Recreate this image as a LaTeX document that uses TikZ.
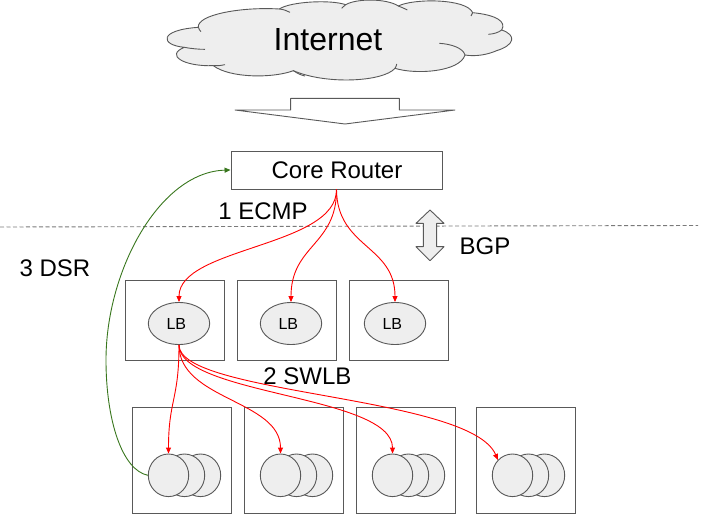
\documentclass[tikz,border=0pt]{standalone}
\usepackage{fontspec}
\setmainfont{Liberation Sans}
\usetikzlibrary{arrows.meta,shapes.geometric}
\definecolor{strk}{HTML}{595959}
\definecolor{shade}{HTML}{EEEEEE}
\definecolor{dsrgreen}{HTML}{38761D}
\tikzset{
  sz/.style={font=\fontsize{#1}{#1}\selectfont},
  lbl/.style={sz=24,inner sep=0pt,text=black},
  boxx/.style={draw=strk,line width=0.9pt,minimum width=99pt,inner sep=0pt},
  lbnode/.style={draw=strk,fill=shade,ellipse,line width=0.9pt,inner sep=0pt,minimum width=61.4pt,minimum height=42pt,sz=16},
  srv/.style={draw=strk,fill=shade,ellipse,line width=0.9pt,inner sep=0pt,minimum width=40.4pt,minimum height=42.6pt},
  redl/.style={draw=red,line width=0.9pt,-{Triangle[length=6pt,width=5pt]}},
  greenl/.style={draw=dsrgreen,line width=0.9pt,-{Triangle[length=6pt,width=5pt]}},
  shapeline/.style={draw=strk,line width=0.9pt,line join=round},
}
\begin{document}
\begin{tikzpicture}[x=1pt,y=-1pt]
\useasboundingbox (0,0) rectangle (701,514);
% cloud
\begin{scope}[shift={(150,0)},x=0.33333pt,y=-0.33333pt]
\path[shapeline,fill=shade] (145,82)
  .. controls (140,45) and (270,20) .. (388,27)
  .. controls (420,5) and (540,-2) .. (587,14)
  .. controls (620,-5) and (710,-5) .. (745,18)
  .. controls (790,-5) and (950,-5) .. (968,38)
  .. controls (1040,45) and (1070,65) .. (1055,90)
  .. controls (1100,105) and (1095,135) .. (1040,152)
  .. controls (1010,165) and (975,170) .. (945,165)
  .. controls (930,215) and (800,225) .. (735,205)
  .. controls (700,245) and (530,255) .. (430,212)
  .. controls (370,235) and (240,235) .. (190,197)
  .. controls (100,200) and (45,165) .. (103,142)
  .. controls (30,135) and (25,90) .. (145,82) -- cycle;
\path[shapeline] (388,27) .. controls (400,28) and (410,32) .. (420,37);
\path[shapeline] (587,14) .. controls (580,20) and (578,22) .. (575,25);
\path[shapeline] (745,18) .. controls (755,22) and (765,26) .. (772,30);
\path[shapeline] (968,38) .. controls (968,42) and (966,45) .. (963,48);
\path[shapeline] (1055,90) .. controls (1045,98) and (1030,102) .. (1015,103);
\path[shapeline] (868,130) .. controls (905,132) and (940,145) .. (945,165);
\path[shapeline] (735,205) .. controls (738,200) and (740,196) .. (740,192);
\path[shapeline] (430,212) .. controls (445,222) and (455,226) .. (465,228);
\path[shapeline] (190,197) .. controls (205,197) and (215,197) .. (225,194);
\path[shapeline] (103,142) .. controls (125,146) and (145,148) .. (165,148);
\path[shapeline] (145,82) .. controls (147,88) and (150,92) .. (153,95);
\end{scope}
\node[sz=32,inner sep=0pt] (inet) at (328,40) {Internet};
% hollow arrow
\begin{scope}[shift={(150,0)},x=0.33333pt,y=-0.33333pt]
\path[shapeline,fill=white] (422,330) -- (422,295) -- (748,295) -- (748,330) -- (915,330) -- (585,372) -- (255,330) -- cycle;
\end{scope}
% dashed line
\coordinate (dl) at (0,227);
\coordinate (dr) at (698,225.5);
\draw[draw=strk!80,line width=0.9pt,dash pattern=on 4pt off 2.5pt] (dl) -- (dr);
% BGP double arrow
\begin{scope}[shift={(100,140)},x=0.33333pt,y=-0.33333pt]
\path[shapeline,fill=shade] (990,210) -- (948,250) -- (970,250) -- (970,320) -- (948,320) -- (990,362) -- (1032,320) -- (1010,320) -- (1010,250) -- (1032,250) -- cycle;
\end{scope}
% core router
\node[boxx,minimum width=211pt,minimum height=38pt,sz=24] (core) at (336.5,170) {\raisebox{-1pt}{\kern1pt Core Router}};
% LB boxes
\node[boxx,minimum height=80pt] (b1) at (174.8,320.3) {};
\node[boxx,minimum height=80pt] (b2) at (286.8,320.3) {};
\node[boxx,minimum height=80pt] (b3) at (398.8,320.3) {};
\node[lbnode] (lb1) at (179,323.5) {LB\kern5.4pt};
\node[lbnode] (lb2) at (291,323.5) {LB\kern5.4pt};
\node[lbnode] (lb3) at (395,323.5) {LB\kern5.4pt};
% server boxes
\node[boxx,minimum height=106pt] (c1) at (181.8,460.3) {};
\node[boxx,minimum height=106pt] (c2) at (293.8,460.3) {};
\node[boxx,minimum height=106pt] (c3) at (405.8,460.3) {};
\node[boxx,minimum height=106pt] (c4) at (525.8,460.3) {};
% servers
\foreach \n/\x in {1/168.5,2/280.5,3/392.5,4/512.5}{
  \node[srv] (s\n c) at (\x+32,475.3) {};
  \node[srv] (s\n b) at (\x+16,475.3) {};
  \node[srv] (s\n) at (\x,475.3) {};
}
% connectors
\draw[redl] (core.south) .. controls (337,247) and (179,247) .. (lb1.north);
\draw[redl] (core.south) .. controls (337,245) and (291,245) .. (lb2.north);
\draw[redl] (core.south) .. controls (337,248) and (395,245) .. (lb3.north);
\draw[redl] (lb1.south) .. controls (179,400) and (168.5,400) .. (s1.north);
\draw[redl] (lb1.south) .. controls (179,400) and (280.5,400) .. (s2.north);
\draw[redl] (lb1.south) .. controls (179,395) and (392.5,395) .. (s3.north);
\draw[redl] (lb1.south) .. controls (179,395) and (470,395) .. (s4.north west);
\draw[greenl] (s1.west) .. controls (122,470) and (106,420) .. (106,360)
  .. controls (106,270) and (160,172) .. (core.west);
% labels
\node[lbl] (ecmp) at (263,211) {1 ECMP};
\node[lbl] (bgp) at (485,246) {BGP};
\node[lbl] (dsr) at (55,268) {3 DSR};
\node[lbl] (swlb) at (307.5,376) {2 SWLB};
\end{tikzpicture}
\end{document}
